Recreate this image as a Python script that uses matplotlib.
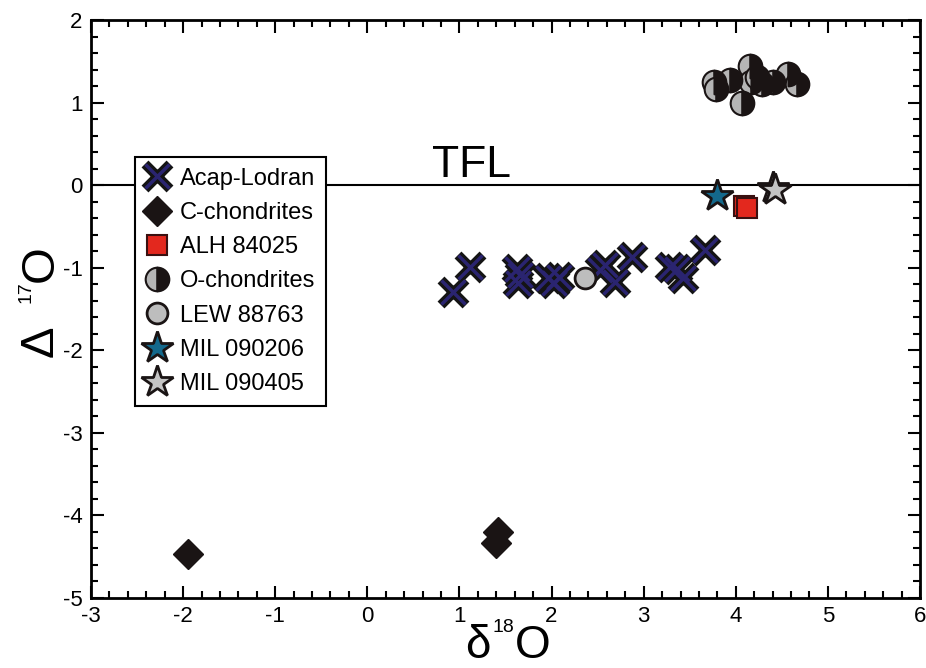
import matplotlib
matplotlib.use("Agg")
import matplotlib.pyplot as plt
from matplotlib.legend_handler import HandlerTuple
from matplotlib.ticker import MultipleLocator

plt.rcParams["font.family"] = ["Liberation Sans", "DejaVu Sans"]
plt.rcParams["axes.unicode_minus"] = False

# Acapulcoite-Lodranite clan
acap_d18o = [0.93, 1.12, 1.63, 1.66, 1.64, 2.03, 2.08, 1.96, 2.58, 2.69, 2.53, 2.87, 3.29, 3.43, 3.36, 3.67]
acap_D17o = [-1.30, -0.99, -1.01, -1.09, -1.18, -1.19, -1.11, -1.13, -0.97, -1.17, -1.03, -0.87, -0.99, -1.13, -1.02, -0.78]

cchon_d18o = [-1.95, 1.42, 1.40]
cchon_D17o = [-4.47, -4.20, -4.33]

alh_d18o = [4.09, 4.12]
alh_D17o = [-0.25, -0.28]

ochon_d18o = [3.76, 3.78, 3.94, 4.15, 4.16, 4.07, 4.28, 4.23, 4.40, 4.57, 4.66]
ochon_D17o = [1.25, 1.17, 1.27, 1.44, 1.25, 1.00, 1.23, 1.31, 1.25, 1.34, 1.23]

lew_d18o = [2.36]
lew_D17o = [-1.13]

mil206_d18o = [3.80]
mil206_D17o = [-0.13]

mil405_d18o = [4.40, 4.43]
mil405_D17o = [-0.03, -0.06]

labels = ["Acap-Lodran", "C-chondrites", "ALH 84025", "O-chondrites", "LEW 88763", "MIL 090206", "MIL 090405"]

W, H = 926, 668
fig = plt.figure(figsize=(W / 100, H / 100), dpi=100)
ax = fig.add_axes([91 / W, 1 - 598 / H, 829 / W, 578 / H])

# terrestrial fractionation line
ax.axhline(0, color="black", lw=1.5, zorder=1)
ax.text(0.70, 0.10, "TFL", fontsize=32, ha="left", va="baseline")

h_c = ax.plot(cchon_d18o, cchon_D17o, "D", ms=15, color="#1a1414", mec="#1a1414", zorder=3)[0]
h_o = ax.plot(ochon_d18o, ochon_D17o, "o", ms=17, fillstyle="left", mfc="#b5b5b5",
              mfcalt="#1a1414", mec="#1a1414", mew=1.5, ls="none", zorder=3)[0]
h_x1 = ax.plot(acap_d18o, acap_D17o, "x", ms=18, mew=7, color="#141414", ls="none", zorder=4)[0]
h_x2 = ax.plot(acap_d18o, acap_D17o, "x", ms=17, mew=2.5, color="#2a2470", ls="none", zorder=5)[0]
h_l = ax.plot(lew_d18o, lew_D17o, "o", ms=15, mfc="#bdbdbd", mec="#1a1414", mew=2, ls="none", zorder=6)[0]
h_a = ax.plot(alh_d18o, alh_D17o, "s", ms=15, mfc="#e3281e", mec="#3a1010", mew=1.5, ls="none", zorder=6)[0]
h_m1 = ax.plot(mil206_d18o, mil206_D17o, "*", ms=24, mfc="#14698c", mec="#1a1414", mew=2, ls="none", zorder=6)[0]
h_m2 = ax.plot(mil405_d18o, mil405_D17o, "*", ms=24, mfc="#c4c4c4", mec="#1a1414", mew=2, ls="none", zorder=6)[0]

ax.set_xlim(-3, 6)
ax.set_ylim(-5, 2)
ax.xaxis.set_major_locator(MultipleLocator(1))
ax.xaxis.set_minor_locator(MultipleLocator(0.2))
ax.yaxis.set_major_locator(MultipleLocator(1))
ax.yaxis.set_minor_locator(MultipleLocator(0.2))
ax.tick_params(which="both", direction="in", top=True, right=True, width=1.5, labelsize=16)
ax.tick_params(which="major", length=9, pad=6)
ax.tick_params(which="minor", length=5)
for s in ax.spines.values():
    s.set_linewidth(2)

# axis titles, pieced together so the superscripts stay small
fig.text(465 / W, 1 - 658 / H, "δ", fontsize=33, ha="left", va="baseline")
fig.text(492 / W, 1 - 632 / H, "18", fontsize=14, ha="left", va="baseline")
fig.text(515 / W, 1 - 658 / H, "O", fontsize=33, ha="left", va="baseline")

fig.text(53 / W, 1 - 357 / H, "Δ", fontsize=34, rotation=90, rotation_mode="anchor", ha="left", va="baseline")
fig.text(31 / W, 1 - 303 / H, "17", fontsize=14, rotation=90, rotation_mode="anchor", ha="left", va="baseline")
fig.text(53 / W, 1 - 282 / H, "O", fontsize=34, rotation=90, rotation_mode="anchor", ha="left", va="baseline")

leg = ax.legend(
    [(h_x1, h_x2), h_c, h_a, h_o, h_l, h_m1, h_m2], labels,
    handler_map={tuple: HandlerTuple(ndivide=1)},
    loc="upper left", bbox_to_anchor=(0.053, 0.763), fontsize=17, frameon=True, fancybox=False,
    edgecolor="black", framealpha=1, borderpad=0.45, labelspacing=0.52, handlelength=1.0,
    handletextpad=0.45, borderaxespad=0, markerscale=1.0,
)
leg.get_frame().set_linewidth(1.5)

fig.savefig("out.png", dpi=100)
